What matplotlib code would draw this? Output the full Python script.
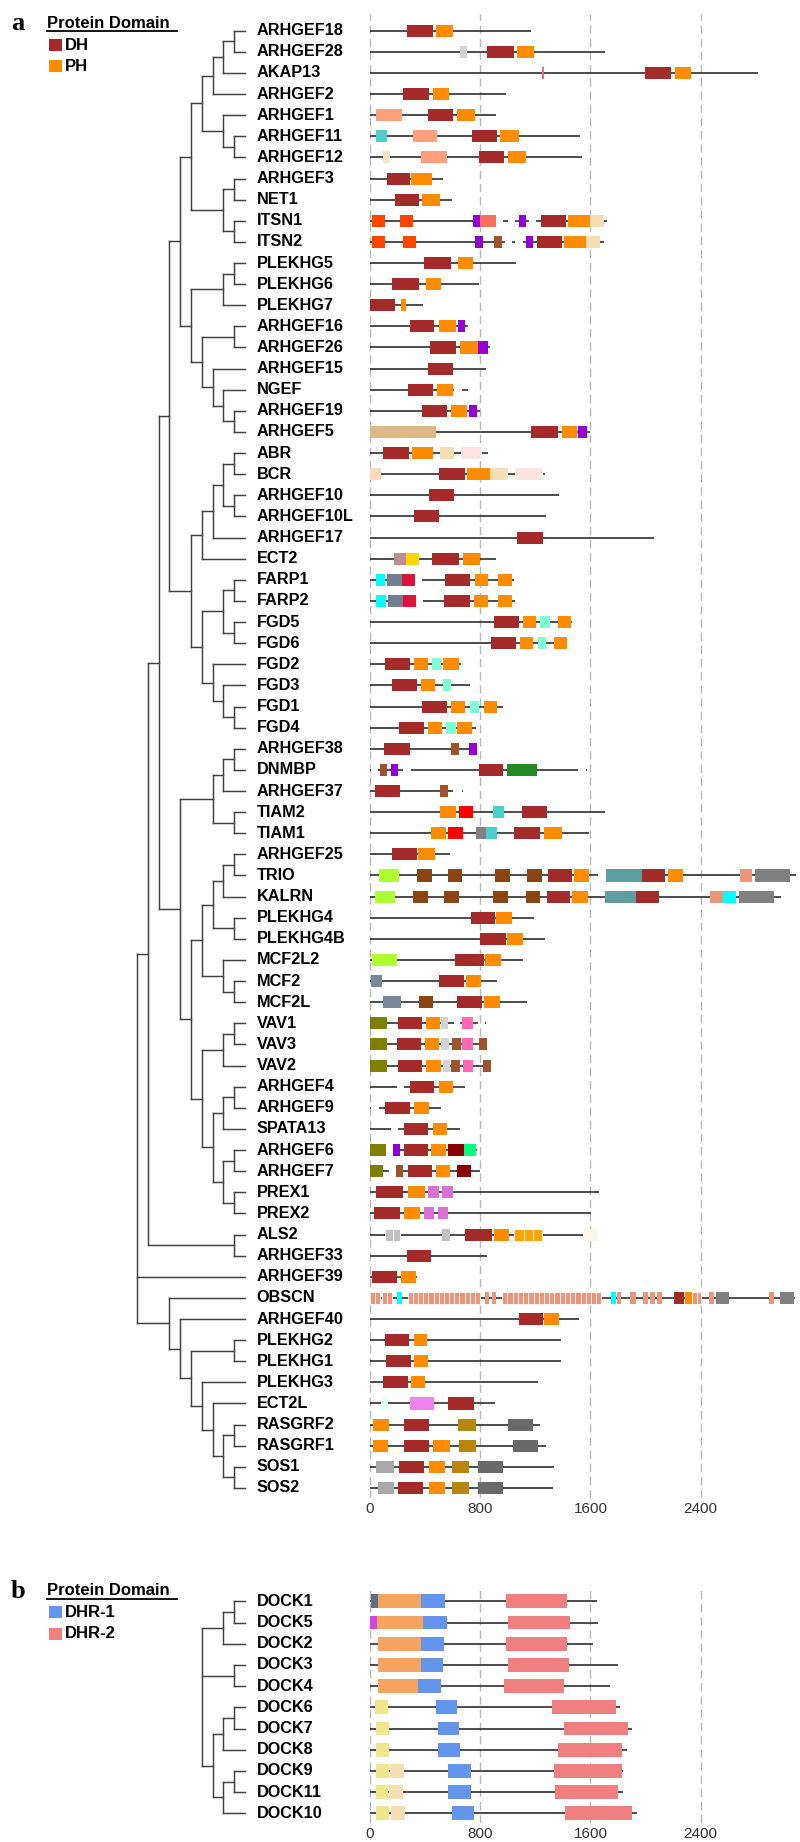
import matplotlib
matplotlib.use("Agg")
import matplotlib.pyplot as plt
from matplotlib.patches import Rectangle
from matplotlib.collections import LineCollection

plt.rcParams['font.family'] = ['Liberation Sans', 'DejaVu Sans']

# ---------------------------------------------------------------- data
domain_colors = {
    "DH": "#A52A2A", "PH": "#FF8C00", "grey_l": "#D3D3D3", "C1": "#DB7093",
    "RGS": "#FFA07A", "PDZ": "#48D1CC", "bisque": "#FBE3CA", "EH": "#FF4500",
    "SH3": "#9400D3", "CC": "#F8705E", "sienna": "#A0522D", "C2": "#F5DEB3",
    "tan": "#DEB887", "misty": "#FFE4E1", "peach": "#FFDAB9", "BRCT": "#BC8F8F",
    "gold": "#FFD700", "cyan": "#00FFFF", "FERM": "#708090", "crimson": "#DC143C",
    "FYVE": "#7FFFD4", "BAR": "#228B22", "RBD": "#FF0000", "grey": "#808080",
    "Sec14": "#ADFF2F", "SPEC": "#8B4513", "teal": "#5F9EA0", "Ig": "#E9967A",
    "CRAL": "#778899", "CH": "#808000", "C1v": "#FF69B4", "darkred": "#8B0000",
    "spring": "#00FF7F", "DEP": "#DA70D6", "RCC1": "#C0C0C0", "MORN": "#FFA500",
    "VPS9": "#FDF5E6", "violet": "#EE82EE", "lightcyan": "#E0FFFF",
    "REM": "#B8860B", "CDC25": "#696969", "H": "#A9A9A9",
    "SH3b": "#607080", "mag": "#D048DC", "ELMO": "#F4A460", "khaki": "#F0E68C",
    "wheat": "#F5DEB3", "DHR1": "#6495ED", "DHR2": "#F08080",
}

genes_a = ["ARHGEF18", "ARHGEF28", "AKAP13", "ARHGEF2", "ARHGEF1", "ARHGEF11",
           "ARHGEF12", "ARHGEF3", "NET1", "ITSN1", "ITSN2", "PLEKHG5", "PLEKHG6",
           "PLEKHG7", "ARHGEF16", "ARHGEF26", "ARHGEF15", "NGEF", "ARHGEF19",
           "ARHGEF5", "ABR", "BCR", "ARHGEF10", "ARHGEF10L", "ARHGEF17", "ECT2",
           "FARP1", "FARP2", "FGD5", "FGD6", "FGD2", "FGD3", "FGD1", "FGD4",
           "ARHGEF38", "DNMBP", "ARHGEF37", "TIAM2", "TIAM1", "ARHGEF25", "TRIO",
           "KALRN", "PLEKHG4", "PLEKHG4B", "MCF2L2", "MCF2", "MCF2L", "VAV1",
           "VAV3", "VAV2", "ARHGEF4", "ARHGEF9", "SPATA13", "ARHGEF6", "ARHGEF7",
           "PREX1", "PREX2", "ALS2", "ARHGEF33", "ARHGEF39", "OBSCN", "ARHGEF40",
           "PLEKHG2", "PLEKHG1", "PLEKHG3", "ECT2L", "RASGRF2", "RASGRF1",
           "SOS1", "SOS2"]

lengths_a = [1172, 1706, 2813, 984, 911, 1523, 1542, 527, 595, 1721, 1697, 1061,
             793, 382, 713, 870, 841, 713, 802, 1600, 858, 1271, 1373, 1276, 2062,
             916, 1044, 1054, 1465, 1431, 657, 728, 962, 769, 777, 1577, 672, 1702,
             1590, 580, 3094, 2980, 1189, 1269, 1112, 923, 1136, 845, 848, 878, 691,
             517, 650, 773, 802, 1660, 1605, 1547, 846, 340, 3082, 1519, 1387, 1387,
             1218, 904, 1237, 1274, 1334, 1329]

gaps_a = {
    "ITSN1": [(916, 967), (1003, 1056), (1155, 1208)],
    "ITSN2": [(981, 1034), (1051, 1112)],
    "NGEF": [(612, 665)],
    "BCR": [(1252, 1258)],
    "FARP1": [(326, 379)],
    "FARP2": [(334, 382)],
    "DNMBP": [(8, 60), (242, 295), (1513, 1571)],
    "ARHGEF37": [(604, 665)],
    "TRIO": [(1656, 1716)],
    "VAV1": [(612, 653), (786, 838)],
    "ARHGEF4": [(198, 247)],
    "ARHGEF9": [(8, 63)],
    "SPATA13": [(150, 203)],
    "ARHGEF6": [(116, 164)],
    "ARHGEF7": [(140, 189)],
    "ECT2L": [(77, 128)],
}

domains_a = {
    "ARHGEF18": [("DH", 266, 454), ("PH", 481, 600)],
    "ARHGEF28": [("grey_l", 653, 706), ("DH", 851, 1042), ("PH", 1068, 1192)],
    "AKAP13": [("C1", 1245, 1264), ("DH", 1996, 2187), ("PH", 2214, 2332)],
    "ARHGEF2": [("DH", 242, 430), ("PH", 457, 573)],
    "ARHGEF1": [("RGS", 44, 234), ("DH", 421, 604), ("PH", 631, 759)],
    "ARHGEF11": [("PDZ", 44, 121), ("RGS", 309, 486), ("DH", 740, 921), ("PH", 947, 1083)],
    "ARHGEF12": [("bisque", 92, 147), ("RGS", 370, 561), ("DH", 790, 976), ("PH", 1003, 1134)],
    "ARHGEF3": [("DH", 123, 292), ("PH", 295, 450)],
    "NET1": [("DH", 181, 355), ("PH", 379, 505)],
    "ITSN1": [("EH", 15, 111), ("EH", 218, 314), ("SH3", 749, 800), ("CC", 800, 916),
              ("SH3", 1078, 1134), ("DH", 1240, 1424), ("PH", 1438, 1595), ("C2", 1595, 1699)],
    "ITSN2": [("EH", 15, 111), ("EH", 242, 334), ("SH3", 761, 817), ("sienna", 902, 955),
              ("SH3", 1131, 1182), ("DH", 1213, 1395), ("PH", 1409, 1571), ("C2", 1571, 1668)],
    "PLEKHG5": [("DH", 392, 585), ("PH", 638, 744)],
    "PLEKHG6": [("DH", 160, 355), ("PH", 408, 512)],
    "PLEKHG7": [("DH", 0, 179), ("PH", 222, 259)],
    "ARHGEF16": [("DH", 288, 466), ("PH", 500, 624), ("SH3", 636, 691)],
    "ARHGEF26": [("DH", 437, 624), ("PH", 653, 786), ("SH3", 786, 853)],
    "ARHGEF15": [("DH", 421, 599)],
    "NGEF": [("DH", 276, 457), ("PH", 488, 602)],
    "ARHGEF19": [("DH", 377, 561), ("PH", 590, 706), ("SH3", 715, 778)],
    "ARHGEF5": [("tan", 0, 479), ("DH", 1172, 1361), ("PH", 1390, 1503), ("SH3", 1511, 1573)],
    "ABR": [("DH", 94, 285), ("PH", 302, 459), ("C2", 508, 612), ("misty", 660, 815)],
    "BCR": [("peach", 0, 77), ("DH", 498, 691), ("PH", 706, 870), ("C2", 870, 998),
            ("misty", 1051, 1252)],
    "ARHGEF10": [("DH", 425, 609)],
    "ARHGEF10L": [("DH", 321, 503)],
    "ARHGEF17": [("DH", 1068, 1254)],
    "ECT2": [("BRCT", 172, 263), ("gold", 263, 355), ("DH", 452, 645), ("PH", 674, 798)],
    "FARP1": [("cyan", 44, 111), ("FERM", 121, 232), ("crimson", 232, 326), ("DH", 546, 728),
              ("PH", 759, 858), ("PH", 931, 1030)],
    "FARP2": [("cyan", 44, 116), ("FERM", 131, 237), ("crimson", 237, 334), ("DH", 539, 725),
              ("PH", 757, 856), ("PH", 928, 1030)],
    "FGD5": [("DH", 897, 1083), ("PH", 1112, 1206), ("FYVE", 1237, 1303), ("PH", 1366, 1462)],
    "FGD6": [("DH", 875, 1059), ("PH", 1088, 1184), ("FYVE", 1216, 1281), ("PH", 1332, 1431)],
    "FGD2": [("DH", 109, 290), ("PH", 319, 421), ("FYVE", 452, 517), ("PH", 529, 645)],
    "FGD3": [("DH", 160, 343), ("PH", 372, 474), ("FYVE", 527, 590)],
    "FGD1": [("DH", 377, 561), ("PH", 587, 689), ("FYVE", 725, 793), ("PH", 824, 921)],
    "FGD4": [("DH", 208, 392), ("PH", 421, 522), ("FYVE", 553, 621), ("PH", 628, 740)],
    "ARHGEF38": [("DH", 102, 288), ("sienna", 585, 648), ("SH3", 720, 773)],
    "DNMBP": [("sienna", 73, 126), ("SH3", 152, 203), ("DH", 788, 964), ("BAR", 996, 1211)],
    "ARHGEF37": [("DH", 36, 215), ("sienna", 510, 568)],
    "TIAM2": [("PH", 508, 621), ("RBD", 645, 744), ("PDZ", 892, 972), ("DH", 1102, 1288)],
    "TIAM1": [("PH", 440, 549), ("RBD", 568, 672), ("grey", 766, 841), ("PDZ", 841, 923),
              ("DH", 1044, 1233), ("PH", 1262, 1395)],
    "ARHGEF25": [("DH", 160, 338), ("PH", 348, 469)],
    "TRIO": [("Sec14", 68, 208), ("SPEC", 343, 447), ("SPEC", 566, 670), ("SPEC", 906, 1015),
             ("SPEC", 1136, 1247), ("DH", 1293, 1465), ("PH", 1479, 1593), ("teal", 1716, 1975),
             ("DH", 1975, 2141), ("PH", 2161, 2272), ("Ig", 2683, 2772), ("grey", 2794, 3050)],
    "KALRN": [("Sec14", 39, 179), ("SPEC", 309, 418), ("SPEC", 537, 645), ("SPEC", 892, 1005),
              ("SPEC", 1129, 1237), ("DH", 1283, 1455), ("PH", 1469, 1581), ("teal", 1704, 1931),
              ("DH", 1931, 2100), ("Ig", 2465, 2562), ("cyan", 2562, 2654), ("grey", 2678, 2932)],
    "PLEKHG4": [("DH", 730, 909), ("PH", 918, 1030)],
    "PLEKHG4B": [("DH", 800, 986), ("PH", 996, 1107)],
    "MCF2L2": [("Sec14", 15, 193), ("DH", 619, 824), ("PH", 836, 952)],
    "MCF2": [("CRAL", 5, 89), ("DH", 498, 679), ("PH", 694, 807)],
    "MCF2L": [("CRAL", 92, 227), ("SPEC", 355, 459), ("DH", 633, 810), ("PH", 831, 947)],
    "VAV1": [("CH", 0, 121), ("DH", 201, 377), ("PH", 404, 508), ("grey_l", 515, 568),
             ("C1v", 667, 749)],
    "VAV3": [("CH", 0, 121), ("DH", 193, 372), ("PH", 401, 503), ("grey_l", 515, 570),
             ("sienna", 595, 660), ("C1v", 667, 749), ("sienna", 790, 848)],
    "VAV2": [("CH", 0, 121), ("DH", 201, 377), ("PH", 406, 515), ("grey_l", 527, 582),
             ("sienna", 590, 653), ("C1v", 672, 749), ("sienna", 817, 877)],
    "ARHGEF4": [("DH", 288, 466), ("PH", 500, 604)],
    "ARHGEF9": [("DH", 106, 288), ("PH", 317, 425)],
    "SPATA13": [("DH", 244, 423), ("PH", 454, 561)],
    "ARHGEF6": [("CH", 0, 116), ("SH3", 164, 218), ("DH", 244, 421), ("PH", 442, 551),
                ("darkred", 568, 682), ("spring", 682, 769)],
    "ARHGEF7": [("CH", 0, 97), ("sienna", 189, 242), ("DH", 276, 452), ("PH", 476, 583),
                ("darkred", 628, 732)],
    "PREX1": [("DH", 46, 242), ("PH", 273, 396), ("DEP", 421, 500), ("DEP", 522, 602)],
    "PREX2": [("DH", 27, 218), ("PH", 244, 363), ("DEP", 392, 464), ("DEP", 493, 566)],
    "ALS2": [("RCC1", 109, 218, 2), ("RCC1", 524, 578), ("DH", 691, 885), ("PH", 899, 1010),
             ("MORN", 1047, 1250, 3), ("VPS9", 1552, 1656)],
    "ARHGEF33": [("DH", 266, 440)],
    "ARHGEF39": [("DH", 17, 198), ("PH", 227, 336)],
    "OBSCN": [("Ig", 0, 75, 2), ("Ig", 87, 160, 2), ("cyan", 193, 232), ("Ig", 273, 800, 14),
              ("Ig", 836, 865), ("Ig", 882, 918), ("Ig", 960, 1680, 19), ("cyan", 1752, 1789),
              ("Ig", 1796, 1825), ("Ig", 1890, 1934), ("Ig", 1984, 2021), ("Ig", 2035, 2071),
              ("Ig", 2083, 2120), ("DH", 2209, 2277), ("PH", 2287, 2335), ("Ig", 2335, 2405, 2),
              ("Ig", 2460, 2499), ("grey", 2509, 2608), ("Ig", 2896, 2932), ("grey", 2978, 3075)],
    "ARHGEF40": [("DH", 1085, 1254), ("PH", 1264, 1373)],
    "PLEKHG2": [("DH", 109, 285), ("PH", 319, 413)],
    "PLEKHG1": [("DH", 114, 295), ("PH", 319, 423)],
    "PLEKHG3": [("DH", 94, 273), ("PH", 297, 396)],
    "ECT2L": [("lightcyan", 85, 120), ("violet", 288, 462), ("DH", 568, 752)],
    "RASGRF2": [("PH", 24, 135), ("DH", 249, 428), ("REM", 638, 771), ("CDC25", 1005, 1182)],
    "RASGRF1": [("PH", 24, 130), ("DH", 244, 428), ("PH", 454, 583), ("REM", 645, 766),
                ("CDC25", 1039, 1218)],
    "SOS1": [("H", 41, 172), ("DH", 213, 392), ("PH", 428, 546), ("REM", 597, 720),
             ("CDC25", 783, 962)],
    "SOS2": [("H", 56, 172), ("DH", 205, 387), ("PH", 425, 546), ("REM", 597, 718),
             ("CDC25", 781, 962)],
}

tree_a = (
    (
        (
            (
                (
                    ((("ARHGEF18", "ARHGEF28"), "AKAP13"), "ARHGEF2"),
                    ("ARHGEF1", ("ARHGEF11", "ARHGEF12")),
                ),
                (("ARHGEF3", "NET1"), ("ITSN1", "ITSN2")),
            ),
            (
                (("PLEKHG5", "PLEKHG6"), "PLEKHG7"),
                (("ARHGEF16", "ARHGEF26"), ("ARHGEF15", ("NGEF", ("ARHGEF19", "ARHGEF5")))),
            ),
        ),
        (
            (((("ABR", "BCR"), ("ARHGEF10", "ARHGEF10L")), "ARHGEF17"), "ECT2"),
            ((("FARP1", "FARP2"), ("FGD5", "FGD6")), ("FGD2", ("FGD3", ("FGD1", "FGD4")))),
        ),
    ),
    (
        ((("ARHGEF38", "DNMBP"), "ARHGEF37"), ("TIAM2", "TIAM1")),
        (
            (((("ARHGEF25", "TRIO"), "KALRN"), ("PLEKHG4", "PLEKHG4B")),
             ("MCF2L2", ("MCF2", "MCF2L"))),
            ((("VAV1", "VAV3"), "VAV2"),
             ((("ARHGEF4", "ARHGEF9"), "SPATA13"), (("ARHGEF6", "ARHGEF7"), ("PREX1", "PREX2")))),
        ),
    ),
)
tree_a = ((tree_a, ("ALS2", "ARHGEF33")), "ARHGEF39",
          ("OBSCN", ("ARHGEF40", (("PLEKHG2", "PLEKHG1"),
                                  ("PLEKHG3", ("ECT2L", (("RASGRF2", "RASGRF1"), ("SOS1", "SOS2"))))))))

genes_b = ["DOCK1", "DOCK5", "DOCK2", "DOCK3", "DOCK4", "DOCK6", "DOCK7", "DOCK8",
           "DOCK9", "DOCK11", "DOCK10"]
lengths_b = [1650, 1658, 1621, 1799, 1743, 1817, 1899, 1866, 1836, 1836, 1940]
domains_b = {
    "DOCK1": [("SH3b", 7, 55), ("ELMO", 55, 367), ("DHR1", 367, 541), ("DHR2", 987, 1428)],
    "DOCK5": [("mag", 0, 48), ("ELMO", 48, 386), ("DHR1", 386, 560), ("DHR2", 1005, 1450)],
    "DOCK2": [("ELMO", 59, 367), ("DHR1", 367, 538), ("DHR2", 990, 1428)],
    "DOCK3": [("ELMO", 59, 367), ("DHR1", 367, 530), ("DHR2", 998, 1443)],
    "DOCK4": [("ELMO", 59, 349), ("DHR1", 349, 512), ("DHR2", 972, 1409)],
    "DOCK6": [("khaki", 37, 134), ("DHR1", 482, 634), ("DHR2", 1324, 1788)],
    "DOCK7": [("khaki", 41, 137), ("DHR1", 493, 649), ("DHR2", 1409, 1869)],
    "DOCK8": [("khaki", 45, 141), ("DHR1", 493, 653), ("DHR2", 1361, 1829)],
    "DOCK9": [("khaki", 41, 141), ("wheat", 148, 245), ("DHR1", 564, 731), ("DHR2", 1339, 1829)],
    "DOCK11": [("khaki", 41, 134), ("wheat", 141, 237), ("DHR1", 567, 731), ("DHR2", 1343, 1799)],
    "DOCK10": [("khaki", 41, 141), ("wheat", 156, 256), ("DHR1", 593, 757), ("DHR2", 1417, 1903)],
}
tree_b = ((("DOCK1", "DOCK5"), "DOCK2"), ("DOCK3", "DOCK4"),
          ((("DOCK6", "DOCK7"), "DOCK8"), (("DOCK9", "DOCK11"), "DOCK10")))

ticks = [0, 800, 1600, 2400]
legend_a = [("DH", "DH"), ("PH", "PH")]
legend_b = [("DHR-1", "DHR1"), ("DHR-2", "DHR2")]

# ---------------------------------------------------------------- layout
W, H = 800, 1842
fig = plt.figure(figsize=(W / 100, H / 100), dpi=100)

X0_PX = 370.0
PX_PER_UNIT = 330.67 / 2400
LEAF_PX = 245.0
LEVEL_PX = 10.8


def px_axes(x0, y0, x1, y1):
    return fig.add_axes([x0 / W, 1 - y1 / H, (x1 - x0) / W, (y1 - y0) / H])


def tree_layout(node, idx):
    if isinstance(node, str):
        return 0, idx[node], []
    res = [tree_layout(c, idx) for c in node]
    lvl = max(r[0] for r in res) + 1
    ys = [r[1] for r in res]
    y = (ys[0] + ys[-1]) / 2
    segs = [((lvl, ys[0]), (lvl, ys[-1]))]
    for cl, cy, cs in res:
        segs.append(((lvl, cy), (cl, cy)))
        segs.extend(cs)
    return lvl, y, segs


def draw_panel(genes, lengths, domains, gaps, tree, row0, step, top, bottom, box_h):
    ylim = ((bottom - row0) / step, (top - row0) / step)
    # tree
    axt = px_axes(100, top, 360, bottom)
    axt.set_xlim((LEAF_PX - 100) / LEVEL_PX, (LEAF_PX - 360) / LEVEL_PX)
    axt.set_ylim(*ylim)
    axt.axis("off")
    idx = {g: i for i, g in enumerate(genes)}
    _, _, segs = tree_layout(tree, idx)
    axt.add_collection(LineCollection(segs, colors="#404040", linewidths=1.05,
                                      capstyle="projecting"))
    for i, g in enumerate(genes):
        axt.annotate(g, xy=(0, i), xytext=(11.5, 0), textcoords="offset pixels",
                     ha="left", va="center", fontsize=11.7, fontweight="bold", color="black")
    # domains
    axd = px_axes(360, top, 800, bottom)
    axd.set_xlim((360 - X0_PX) / PX_PER_UNIT, (800 - X0_PX) / PX_PER_UNIT)
    axd.set_ylim(*ylim)
    for t in ticks:
        axd.axvline(t, color="#b8b8b8", lw=1.0, ls=(0, (6, 3.5)), zorder=0)
    for i, (g, L) in enumerate(zip(genes, lengths)):
        start = 0
        for gs, ge in gaps.get(g, []) + [(L, L)]:
            if gs > start:
                axd.plot([start, gs], [i, i], color="#2e2e2e", lw=1.2,
                         solid_capstyle="butt", zorder=1)
            start = ge
        for d in domains.get(g, []):
            key, s, e = d[0], d[1], d[2]
            k = d[3] if len(d) > 3 else 1
            wdt = (e - s) / k
            for j in range(k):
                axd.add_patch(Rectangle((s + j * wdt, i - box_h / 2), wdt, box_h,
                                        facecolor=domain_colors[key],
                                        edgecolor="white" if k > 1 else "none",
                                        lw=0.6 if k > 1 else 0, zorder=2))
    axd.set_xticks(ticks)
    axd.set_xticklabels([str(t) for t in ticks])
    axd.set_yticks([])
    axd.tick_params(axis="x", length=0, pad=3, labelsize=11, labelcolor="#333333")
    for sp in axd.spines.values():
        sp.set_visible(False)
    axd.patch.set_alpha(0)
    return axd


draw_panel(genes_a, lengths_a, domains_a, gaps_a, tree_a,
           row0=30.7, step=21.12, top=14, bottom=1498, box_h=0.57)
draw_panel(genes_b, lengths_b, domains_b, {}, tree_b,
           row0=1601.3, step=21.2, top=1585, bottom=1823, box_h=0.66)

# ---------------------------------------------------------------- legends
axo = fig.add_axes([0, 0, 1, 1], zorder=-1)
axo.set_xlim(0, W)
axo.set_ylim(H, 0)
axo.axis("off")


def legend(letter, ytitle, items):
    axo.text(11, ytitle + 1, letter, fontsize=19, fontweight="bold",
             family=["Liberation Serif", "DejaVu Serif"], ha="left", va="center")
    axo.text(47, ytitle, "Protein Domain", fontsize=12, fontweight="bold",
             ha="left", va="center")
    axo.plot([47, 177], [ytitle + 8.5, ytitle + 8.5], color="black", lw=1.3)
    for k, (lab, key) in enumerate(items):
        yc = ytitle + 22 + k * 21.5
        axo.add_patch(Rectangle((49, yc - 6), 13, 12, facecolor=domain_colors[key],
                                edgecolor="none"))
        axo.text(65, yc, lab, fontsize=12, fontweight="bold", ha="left", va="center")


legend("a", 23, legend_a)
legend("b", 1590, legend_b)

fig.savefig("out.png", dpi=100)
